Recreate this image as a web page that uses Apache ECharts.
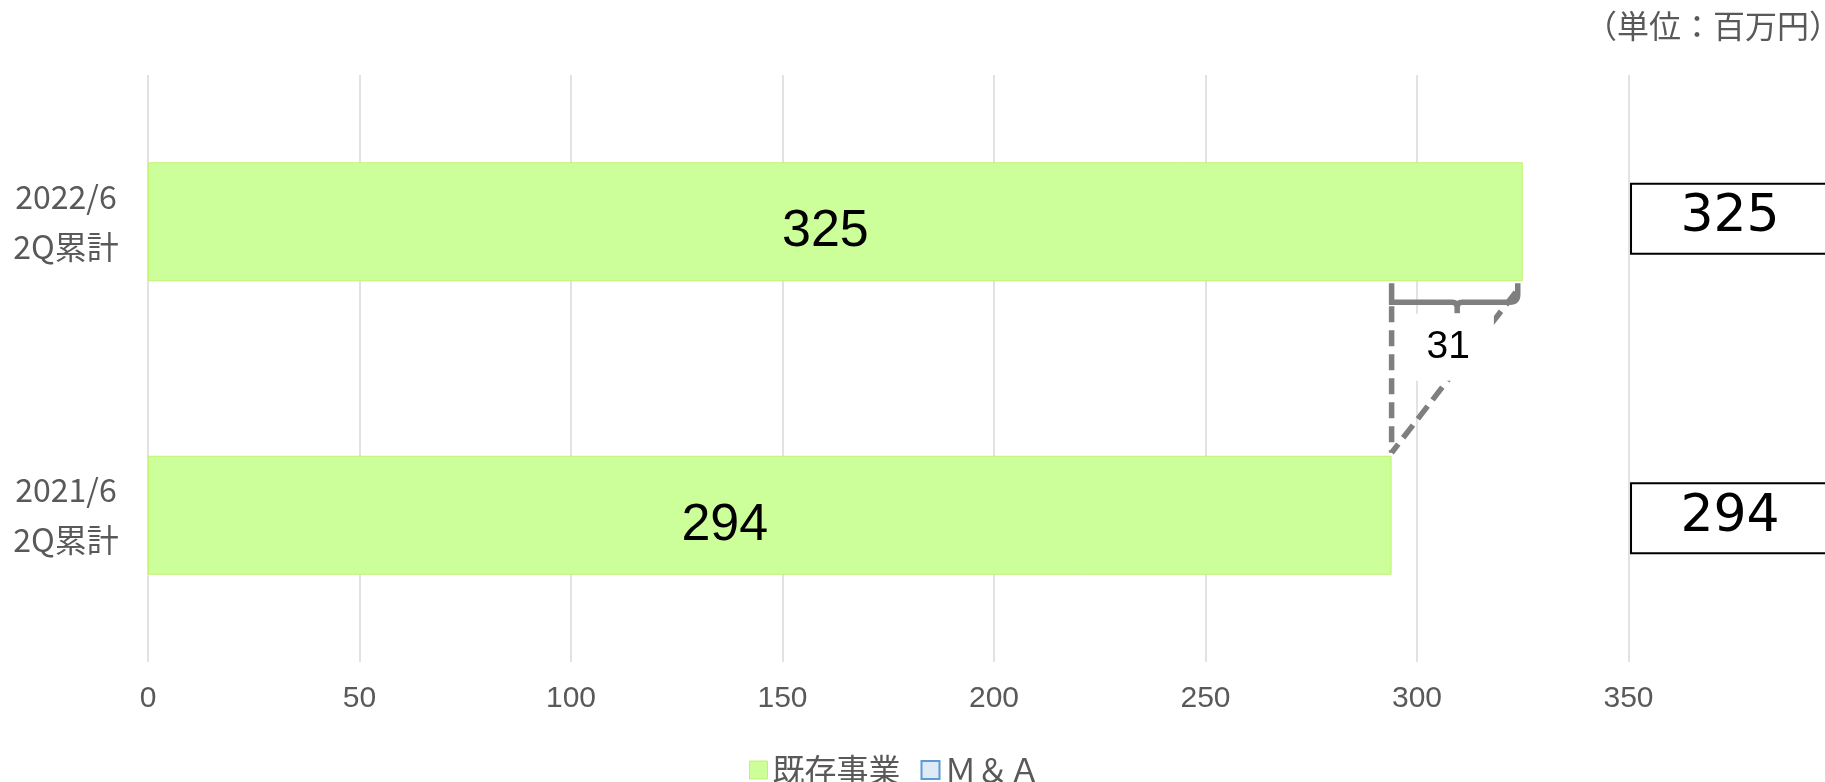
<!DOCTYPE html>
<html>
<head>
<meta charset="utf-8">
<script src="https://cdn.jsdelivr.net/npm/echarts@6/dist/echarts.min.js"></script>
<style>
html,body{margin:0;padding:0;background:#fff;overflow:hidden;}
#chart{width:1825px;height:782px;}
</style>
</head>
<body>
<div id="chart"></div>
<script>
// ---- data ----
const categories = ['2021/6\n2Q累計', '2022/6\n2Q累計'];
const existingBusiness = [294, 325];   // 既存事業
const mna = [0, 0];                    // Ｍ＆Ａ
const totals = [294, 325];             // boxed totals on the right
const increase = 31;                   // bracket label
const xTicks = [0, 50, 100, 150, 200, 250, 300, 350];
const seriesNames = ['既存事業', 'Ｍ＆Ａ'];
const unitText = '（単位：百万円）';

// ---- layout / style constants ----
const BAR_WIDTH = 119;
const TOTAL_COLUMN_X = 374;
const BOX_W = 198, BOX_H = 70;
const BOX_Y_SHIFT = [3, -3];
const BAR_LABEL_OFFSETS = [[-45, 10], [-10, 10]];
const GRAY = '#595959';

const chart = echarts.init(document.getElementById('chart'), null, {renderer: 'canvas'});

const option = {
  animation: false,
  backgroundColor: '#fff',
  grid: {left: 148, top: 75, width: 1692, height: 587, containLabel: false, outerBoundsMode: 'none'},
  legend: {
    data: [
      {name: seriesNames[0], itemStyle: {color: '#CCFF99', borderColor: '#C2F270', borderWidth: 1}},
      {name: seriesNames[1], itemStyle: {color: '#DEEBF7', borderColor: '#5B9BD5', borderWidth: 2}}
    ],
    left: 744, top: 749,
    icon: 'rect', itemWidth: 18, itemHeight: 18, itemGap: 20,
    selectedMode: false,
    textStyle: {fontSize: 32, color: GRAY, fontFamily: 'Noto Sans CJK JP'}
  },
  graphic: [{
    type: 'text', left: 1585, top: 10,
    style: {text: unitText, fontSize: 32, fill: GRAY, fontFamily: 'Noto Sans CJK JP'}
  }],
  xAxis: {
    type: 'value', min: 0, max: 400, interval: 50,
    axisLine: {show: false}, axisTick: {show: false},
    splitLine: {show: true, lineStyle: {color: '#D9D9D9', width: 1.5}},
    axisLabel: {
      fontSize: 30, color: GRAY, fontFamily: 'Liberation Sans', margin: 22,
      showMaxLabel: false,
      formatter: v => xTicks.indexOf(v) >= 0 ? String(v) : ''
    }
  },
  yAxis: {
    type: 'category', data: categories,
    axisLine: {show: false}, axisTick: {show: false}, splitLine: {show: false},
    axisLabel: {fontSize: 32, lineHeight: 50, color: GRAY, fontFamily: 'Noto Sans CJK JP', align: 'center', margin: 82}
  },
  series: [
    {
      name: seriesNames[0], type: 'bar', stack: 'total', barWidth: BAR_WIDTH,
      itemStyle: {color: '#CCFF99', borderColor: '#C2F270', borderWidth: 1},
      label: {show: true, position: 'inside', fontSize: 52, color: '#000', fontFamily: 'Liberation Sans'},
      data: existingBusiness.map((v, i) => ({value: v, label: {offset: BAR_LABEL_OFFSETS[i]}})),
      z: 2
    },
    {
      name: seriesNames[1], type: 'bar', stack: 'total', barWidth: BAR_WIDTH,
      itemStyle: {color: '#DEEBF7', borderColor: '#5B9BD5', borderWidth: 0},
      data: mna,
      z: 2
    },
    {
      name: 'total', type: 'custom', silent: true, z: 3,
      encode: {x: 0, y: 1},
      data: totals.map((v, i) => [TOTAL_COLUMN_X, i, v]),
      renderItem: function (params, api) {
        const c = api.coord([api.value(0), api.value(1)]);
        const cy = c[1] + BOX_Y_SHIFT[params.dataIndex];
        return {
          type: 'group',
          children: [
            {type: 'rect', shape: {x: c[0] - BOX_W / 2, y: cy - BOX_H / 2, width: BOX_W, height: BOX_H},
             style: {fill: '#fff', stroke: '#000', lineWidth: 2}},
            {type: 'text', style: {text: String(api.value(2)), x: c[0], y: cy - 1,
              align: 'center', verticalAlign: 'middle', fontSize: 52, fontFamily: 'DejaVu Sans', fill: '#000'}}
          ]
        };
      }
    },
    {
      name: 'bracket', type: 'custom', silent: true, z: 6,
      encode: {x: [0, 1], y: 2},
      data: [[existingBusiness[0], existingBusiness[1], 0]],
      renderItem: function (params, api) {
        const lowV = api.value(0), highV = api.value(1);
        const yTopCat = api.coord([0, 1])[1];
        const yBotCat = api.coord([0, 0])[1];
        const half = BAR_WIDTH / 2;
        const bar1Bottom = yTopCat + half;
        const bar2Top = yBotCat - half;
        const xL = api.coord([lowV, 0])[0];
        const xR = api.coord([highV, 0])[0] - 5;
        const xM = api.coord([(lowV + highV) / 2, 0])[0];
        const yT = bar1Bottom + 2;
        const yB = bar1Bottom + 21;
        const r = 8;
        const path = 'M' + xL + ',' + yT + ' L' + xL + ',' + yB +
          ' L' + (xM - 5) + ',' + yB + ' Q' + xM + ',' + yB + ' ' + xM + ',' + (yB + 5) +
          ' L' + xM + ',' + (yB + 11) + ' M' + xM + ',' + (yB + 5) +
          ' Q' + xM + ',' + yB + ' ' + (xM + 5) + ',' + yB +
          ' L' + (xR - r) + ',' + yB + ' Q' + xR + ',' + yB + ' ' + xR + ',' + (yB - r) +
          ' L' + xR + ',' + yT;
        const dashStyle = {stroke: '#7F7F7F', lineWidth: 5.5, lineDash: [16, 8], fill: null};
        return {
          type: 'group',
          children: [
            {type: 'line', shape: {x1: xL, y1: yB + 4, x2: xL, y2: bar2Top - 3}, style: dashStyle},
            {type: 'line', shape: {x1: xR - 2, y1: yB - 10, x2: xL, y2: bar2Top - 3}, style: dashStyle},
            {type: 'path', shape: {pathData: path}, style: {stroke: '#7F7F7F', lineWidth: 5.5, fill: null}},
            {
              type: 'text',
              style: {
                text: String(increase), x: xM - 9, y: bar1Bottom + 66,
                align: 'center', verticalAlign: 'middle',
                fontSize: 39, fontFamily: 'Liberation Sans', fill: '#000',
                backgroundColor: '#fff', padding: [14, 24]
              }
            }
          ]
        };
      }
    }
  ]
};
chart.setOption(option);
</script>
</body>
</html>
